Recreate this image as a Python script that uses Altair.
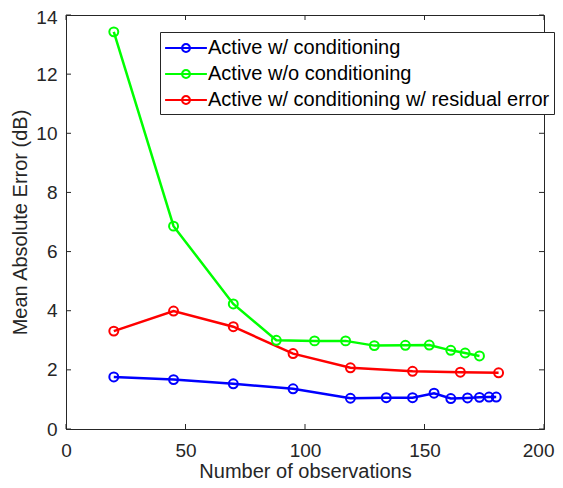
import altair as alt
import pandas as pd

series_names = ["Active w/ conditioning", "Active w/o conditioning",
                "Active w/ conditioning w/ residual error"]
series_colors = ["#0000ff", "#00ff00", "#ff0000"]

blue_x = [20, 45, 70, 95, 119, 134, 145, 154, 161, 168, 173, 177, 180]
blue_y = [1.76, 1.67, 1.53, 1.36, 1.04, 1.06, 1.06, 1.21, 1.03, 1.05, 1.07, 1.08, 1.08]
green_x = [20, 45, 70, 88, 104, 117, 129, 142, 152, 161, 167, 173]
green_y = [13.43, 6.86, 4.23, 3.0, 2.98, 2.98, 2.82, 2.83, 2.84, 2.66, 2.57, 2.47]
red_x = [20, 45, 70, 95, 119, 145, 165, 181]
red_y = [3.31, 3.99, 3.46, 2.55, 2.07, 1.95, 1.92, 1.90]

x_ticks = [0, 50, 100, 150, 200]
y_ticks = [0, 2, 4, 6, 8, 10, 12, 14]

rows = []
for name, xs, ys in zip(series_names, [blue_x, green_x, red_x], [blue_y, green_y, red_y]):
    for xv, yv in zip(xs, ys):
        rows.append({"series": name, "n": xv, "mae": yv})
df = pd.DataFrame(rows)

W, H = 478, 414
AX = "#262626"
FONT = "Liberation Sans"

legend_path = ("M-1.9,0L1.9,0M0.36,0A0.36,0.36,0,1,1,-0.36,0"
               "A0.36,0.36,0,1,1,0.36,0")

xscale = alt.Scale(domain=[0, 200], nice=False)
yscale = alt.Scale(domain=[0, 14], nice=False)
xaxis = alt.Axis(values=x_ticks, title="Number of observations",
                 labelPadding=12, titlePadding=1, labelFlush=False,
                 labelAlign={"expr": "datum.value == 200 ? 'right' : 'center'"},
                 labelOffset={"expr": "datum.value == 200 ? 10 : 0"})
yaxis = alt.Axis(values=y_ticks, title="Mean Absolute Error (dB)",
                 labelPadding=9, titlePadding=5, labelFlush=False,
                 labelOffset={"expr": "datum.value == 14 ? 2 : 0"})

lines = alt.Chart(df).mark_line(
    strokeWidth=2.5,
    point=alt.OverlayMarkDef(filled=False, size=80, strokeWidth=2, shape="circle"),
).encode(
    x=alt.X("n:Q", scale=xscale, axis=xaxis),
    y=alt.Y("mae:Q", scale=yscale, axis=yaxis),
    color=alt.Color("series:N", scale=alt.Scale(domain=series_names, range=series_colors),
                    legend=alt.Legend(
                        title=None, orient="none", legendX=94, legendY=17,
                        symbolType=legend_path, symbolSize=484, symbolStrokeWidth=2,
                        symbolOffset=10, labelOffset=10,
                        labelFont=FONT, labelFontSize=20, labelColor="#000000",
                        labelLimit=600, strokeColor=AX, fillColor="white",
                        padding=4, rowPadding=4)),
)

xt = pd.DataFrame({"n": x_ticks})
yt = pd.DataFrame({"mae": y_ticks})
tick_bottom = alt.Chart(xt).mark_rule(color=AX, strokeWidth=1).encode(
    x=alt.X("n:Q", scale=xscale, axis=xaxis), y=alt.value(H), y2=alt.value(H - 5))
tick_top = alt.Chart(xt).mark_rule(color=AX, strokeWidth=1).encode(
    x=alt.X("n:Q", scale=xscale, axis=xaxis), y=alt.value(0), y2=alt.value(5))
tick_left = alt.Chart(yt).mark_rule(color=AX, strokeWidth=1).encode(
    y=alt.Y("mae:Q", scale=yscale, axis=yaxis), x=alt.value(0), x2=alt.value(5))
tick_right = alt.Chart(yt).mark_rule(color=AX, strokeWidth=1).encode(
    y=alt.Y("mae:Q", scale=yscale, axis=yaxis), x=alt.value(W), x2=alt.value(W - 5))

chart = alt.layer(lines, tick_bottom, tick_top, tick_left, tick_right).properties(
    width=W, height=H,
    autosize=alt.AutoSizeParams(type="none"),
    padding={"left": 58, "top": 7, "right": 11, "bottom": 51},
).configure_view(stroke=AX, strokeWidth=1).configure_axis(
    grid=False, tickSize=0, domainColor=AX, labelColor=AX, titleColor=AX,
    labelFont=FONT, titleFont=FONT, labelFontSize=19, titleFontSize=20,
    titleFontWeight="normal",
)

chart.save("out.html", embed_options={"renderer": "svg", "actions": False})
